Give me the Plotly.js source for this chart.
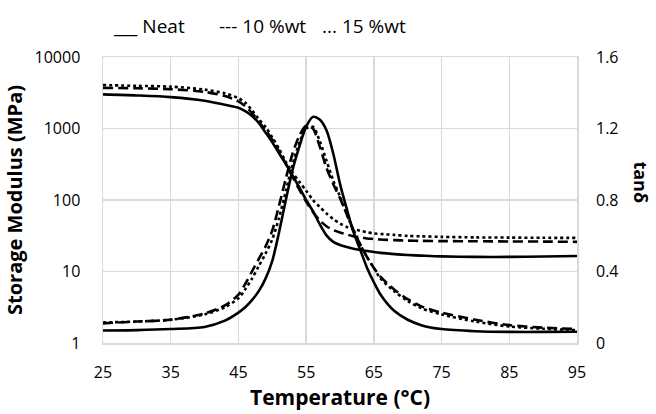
<!DOCTYPE html>
<html>
<head>
<meta charset="utf-8">
<script src="https://cdn.plot.ly/plotly-3.0.1.min.js"></script>
<style>html,body{margin:0;padding:0;background:#fff;}#chart{width:656px;height:414px;}</style>
</head>
<body>
<div id="chart"></div>
<script>
const temperature = [25,30,35,40,43,45,46,47,48,49,50,51,52,53,54,55,56,57,58,59,60,61,62,63,64,65,66,68,70,72,75,80,85,90,95];

const modulusNeat = [3000,2900,2750,2450,2150,1950,1750,1500,1200,880,640,450,320,220,150,100,70,46,32,26,23.5,22,20.8,20,19.3,18.7,18.2,17.5,17,16.7,16.3,16,16,16.2,16.5];
const modulus10 = [3700,3650,3550,3250,2850,2400,2050,1650,1250,950,700,480,320,210,140,95,68,52,43,38,35,33,31,30,29,28.5,28,27.5,27,26.8,26.6,26.5,26.3,26.2,26];
const modulus15 = [4050,3950,3850,3500,3100,2650,2300,1800,1350,1050,750,520,340,240,180,135,100,80,65,54,47,42,39,37,35.5,34,33.5,32.5,31.5,31,30.5,30,29.8,29.6,29.5];

const tanNeat = [0.07,0.072,0.078,0.09,0.125,0.17,0.2,0.24,0.29,0.36,0.46,0.62,0.8,0.97,1.1,1.21,1.265,1.25,1.19,1.06,0.89,0.75,0.62,0.52,0.42,0.34,0.27,0.18,0.13,0.1,0.078,0.066,0.062,0.062,0.063];
const tan10 = [0.11,0.12,0.13,0.165,0.21,0.27,0.33,0.4,0.47,0.54,0.63,0.77,0.92,1.06,1.16,1.215,1.2,1.1,0.98,0.89,0.81,0.72,0.63,0.55,0.48,0.42,0.37,0.3,0.245,0.205,0.17,0.13,0.1,0.086,0.078];
const tan15 = [0.115,0.12,0.13,0.16,0.2,0.25,0.3,0.36,0.43,0.5,0.58,0.7,0.85,1.0,1.12,1.2,1.21,1.13,1.02,0.91,0.82,0.72,0.63,0.55,0.48,0.42,0.36,0.29,0.235,0.195,0.16,0.12,0.092,0.08,0.072];

const seriesNames = ["Neat", "10 %wt", "15 %wt"];
const legendMarks = ["<b>___</b>", "---", "..."];
const xTicks = [25,35,45,55,65,75,85,95];
const yTicks = [1,10,100,1000,10000];
const y2Ticks = [0,0.4,0.8,1.2,1.6];

const FONT = "Open Sans, Liberation Sans, Arial, sans-serif";
const dashes = ["solid", "10px,5px", "3px,3px"];
const modSets = [modulusNeat, modulus10, modulus15];
const tanSets = [tanNeat, tan10, tan15];

const traces = [];
for (let i = 0; i < 3; i++) {
  traces.push({x: temperature, y: modSets[i], type: "scatter", mode: "lines", yaxis: "y", name: seriesNames[i],
    line: {color: "#000", width: 2.6, dash: dashes[i], shape: "spline", smoothing: 0.8}, showlegend: false, hoverinfo: "skip"});
}
for (let i = 0; i < 3; i++) {
  traces.push({x: temperature, y: tanSets[i], type: "scatter", mode: "lines", yaxis: "y2", name: seriesNames[i] + " tanδ",
    line: {color: "#000", width: 2.6, dash: dashes[i], shape: "spline", smoothing: 0.8}, showlegend: false, hoverinfo: "skip"});
}

const legendX = [0.017, 0.24, 0.458];
const annotations = [];
for (let i = 0; i < 3; i++) {
  annotations.push({xref: "paper", yref: "paper", x: legendX[i], y: 1.11, xanchor: "left", yanchor: "middle",
    showarrow: false, text: legendMarks[i] + " " + seriesNames[i], font: {family: FONT, size: 19, color: "#000"}});
}
annotations.push({xref: "paper", yref: "paper", x: 1.136, y: 0.56, xanchor: "center", yanchor: "middle",
  showarrow: false, text: "<b>tanδ</b>", textangle: 90, font: {family: FONT, size: 18, color: "#000"}});

const layout = {
  width: 656, height: 414,
  margin: {l: 103, r: 79, t: 57, b: 71},
  paper_bgcolor: "#fff", plot_bgcolor: "#fff",
  showlegend: false,
  font: {family: FONT, color: "#000"},
  xaxis: {
    range: [25, 95], tickvals: xTicks, ticktext: xTicks.map(String),
    showgrid: true, gridcolor: "#d9d9d9", gridwidth: 1.5,
    showline: true, linecolor: "#d9d9d9", linewidth: 1.5, mirror: true,
    ticks: "", ticklabelstandoff: 14, zeroline: false,
    tickfont: {family: FONT, size: 16, color: "#000"},
    title: {text: "<b>Temperature (°C)</b>", font: {family: FONT, size: 21, color: "#000"}, standoff: 8}
  },
  yaxis: {
    type: "log", range: [0, 4], tickvals: yTicks, ticktext: yTicks.map(String),
    showgrid: true, gridcolor: "#d9d9d9", gridwidth: 1.5,
    showline: true, linecolor: "#d9d9d9", linewidth: 1.5, mirror: true,
    ticks: "", ticklabelstandoff: 18, zeroline: false,
    tickfont: {family: FONT, size: 16, color: "#000"},
    title: {text: "<b>Storage Modulus (MPa)</b>", font: {family: FONT, size: 20, color: "#000"}, standoff: 6}
  },
  yaxis2: {
    overlaying: "y", side: "right", range: [0, 1.6], tickvals: y2Ticks, ticktext: ["0","0.4","0.8","1.2","1.6"],
    showgrid: false, zeroline: false, showline: false, ticks: "", ticklabelstandoff: 18,
    tickfont: {family: FONT, size: 16, color: "#000"}
  },
  annotations: annotations
};

Plotly.newPlot("chart", traces, layout, {staticPlot: true, displayModeBar: false});
</script>
</body>
</html>
